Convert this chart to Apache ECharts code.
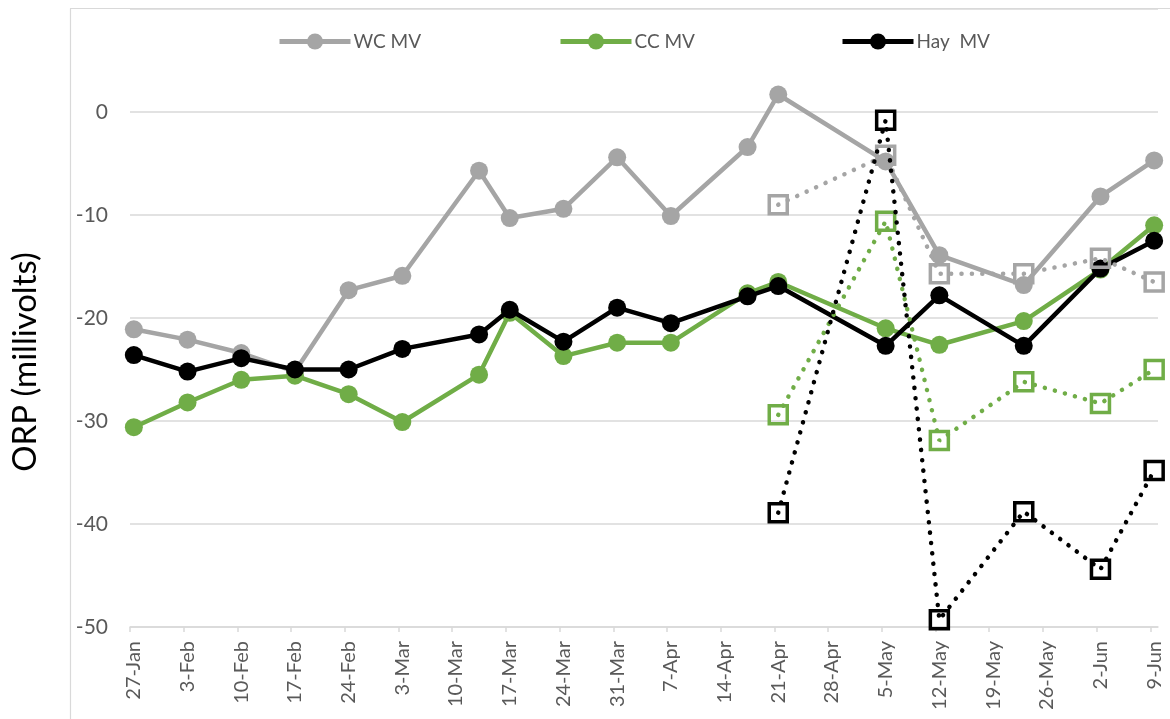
<!DOCTYPE html>
<html>
<head>
<meta charset="utf-8">
<script src="https://cdn.jsdelivr.net/npm/echarts@6/dist/echarts.min.js"></script>
<style>
html,body{margin:0;padding:0;background:#fff;}
#chart{width:1170px;height:719px;}
</style>
</head>
<body>
<div id="chart"></div>
<script>
// ---- data ----
const tickDates = ['2019-01-27','2019-02-03','2019-02-10','2019-02-17','2019-02-24','2019-03-03','2019-03-10','2019-03-17','2019-03-24','2019-03-31','2019-04-07','2019-04-14','2019-04-21','2019-04-28','2019-05-05','2019-05-12','2019-05-19','2019-05-26','2019-06-02','2019-06-09'];
const solidDates = ['2019-01-27','2019-02-03','2019-02-10','2019-02-17','2019-02-24','2019-03-03','2019-03-13','2019-03-17','2019-03-24','2019-03-31','2019-04-07','2019-04-17','2019-04-21','2019-05-05','2019-05-12','2019-05-23','2019-06-02','2019-06-09'];
const wcMV  = [-21.1,-22.1,-23.4,-25.2,-17.3,-15.9,-5.7,-10.3,-9.4,-4.4,-10.1,-3.4,1.7,-4.8,-13.9,-16.8,-8.2,-4.7];
const ccMV  = [-30.6,-28.2,-26.0,-25.6,-27.4,-30.1,-25.5,-19.5,-23.7,-22.4,-22.4,-17.6,-16.5,-21.0,-22.6,-20.3,-15.3,-11.0];
const hayMV = [-23.6,-25.2,-23.9,-25.0,-25.0,-23.0,-21.6,-19.2,-22.3,-19.0,-20.5,-17.9,-16.9,-22.7,-17.8,-22.7,-15.2,-12.5];
const dottedDates = ['2019-04-21','2019-05-05','2019-05-12','2019-05-23','2019-06-02','2019-06-09'];
const wcDotted  = [-9.0,-4.2,-15.7,-15.7,-14.2,-16.5];
const ccDotted  = [-29.4,-10.6,-31.9,-26.2,-28.3,-25.0];
const hayDotted = [-38.9,-0.8,-49.3,-38.8,-44.4,-34.8];
const seriesNames = ['WC MV','CC MV','Hay  MV'];
const colors = ['#A5A5A5','#70AD47','#000000'];
const yTitle = 'ORP (millivolts)';

// ---- helpers ----
const DAY = 86400000;
const t0 = Date.UTC(2019,0,27);
const monthNames = ['Jan','Feb','Mar','Apr','May','Jun','Jul','Aug','Sep','Oct','Nov','Dec'];
function dayOffset(s){ const p = s.split('-').map(Number); return (Date.UTC(p[0],p[1]-1,p[2]) - t0)/DAY; }
function dayLabel(off){ const d = new Date(t0 + Math.floor(off)*DAY); return d.getUTCDate() + '-' + monthNames[d.getUTCMonth()]; }
function pairs(dates, vals){ return dates.map((d,i)=>[dayOffset(d)+0.5, vals[i]]); }
const tickPos = tickDates.map(dayOffset);
const labelPos = tickPos.map(v=>v+0.5);
const xMax = dayOffset(tickDates[tickDates.length-1]) + 1;

const solidVals = [wcMV, ccMV, hayMV];
const dottedVals = [wcDotted, ccDotted, hayDotted];
const series = [];
solidVals.forEach((vals,i)=>{
  series.push({
    type:'line', name:seriesNames[i], data:pairs(solidDates, vals),
    symbol:'circle', symbolSize:18, showAllSymbol:true,
    lineStyle:{color:colors[i], width:4.5},
    itemStyle:{color:colors[i]},
    z:2+i
  });
});
dottedVals.forEach((vals,i)=>{
  series.push({
    type:'line', name:seriesNames[i]+' (dotted)', data:pairs(dottedDates, vals),
    symbol:'rect', symbolSize:18, showAllSymbol:true,
    lineStyle:{color:colors[i], width:4.5, type:[0.1,10.3], cap:'round'},
    itemStyle:{color:'rgba(255,255,255,0)', borderColor:colors[i], borderWidth:3.5},
    z:6+i
  });
});

const legendLefts = [272, 553, 835];
const legends = seriesNames.map((n,i)=>({
  data:[n], left:legendLefts[i], top:27, itemWidth:71, itemHeight:20, itemGap:0,
  lineStyle:{width:5},
  textStyle:{fontSize:19, color:'#595959', fontFamily:'Lato', padding:[0,0,0,-2]},
  selectedMode:false
}));

const chart = echarts.init(document.getElementById('chart'), null, {renderer:'canvas'});
chart.setOption({
  animation:false,
  backgroundColor:'#fff',
  legend: legends,
  grid:{left:130, right:12, top:9, bottom:92, containLabel:false},
  xAxis:{
    type:'value', min:0, max:xMax,
    axisLine:{show:true, onZero:false, lineStyle:{color:'#D9D9D9', width:1.5}},
    axisTick:{show:true, length:5, customValues:tickPos, lineStyle:{color:'#D9D9D9', width:1.5}},
    axisLabel:{customValues:labelPos, rotate:90, margin:14, fontSize:20, color:'#595959', fontFamily:'Lato', formatter:v=>dayLabel(v)},
    splitLine:{show:false}
  },
  yAxis:{
    type:'value', min:-50, max:10, interval:10,
    axisLine:{show:false}, axisTick:{show:false},
    axisLabel:{showMaxLabel:false, fontSize:21, color:'#595959', margin:22, fontFamily:'Lato'},
    splitLine:{lineStyle:{color:'#D9D9D9', width:1.5}}
  },
  graphic:[
    {type:'line', shape:{x1:70.5, y1:8.5, x2:70.5, y2:719}, style:{stroke:'#D9D9D9', lineWidth:1.2}, silent:true},
    {type:'line', shape:{x1:70, y1:8.5, x2:1170, y2:8.5}, style:{stroke:'#D9D9D9', lineWidth:1.2}, silent:true},
    {type:'text', x:25, y:362, rotation:Math.PI/2, silent:true,
     style:{text:yTitle, font:'33px Lato', fill:'#000', align:'center', verticalAlign:'middle'}}
  ],
  series: series
});
</script>
</body>
</html>
